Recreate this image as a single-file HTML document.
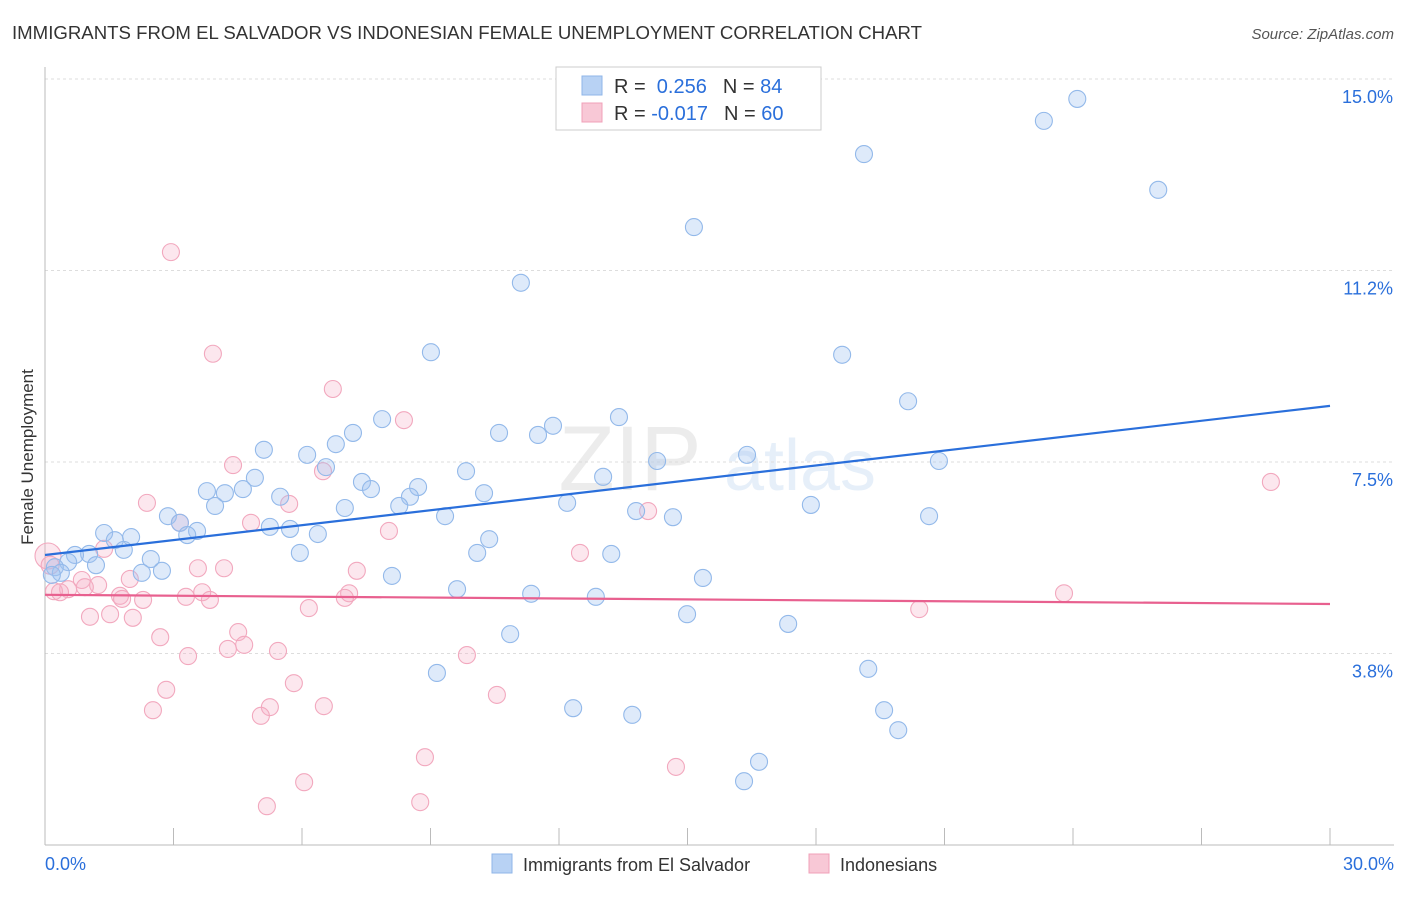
<!DOCTYPE html>
<html><head><meta charset="utf-8">
<style>
body{margin:0;background:#fff;font-family:"Liberation Sans",sans-serif;}
svg text{font-family:"Liberation Sans",sans-serif;}
</style></head>
<body>
<svg id="chart" width="1406" height="892" viewBox="0 0 1406 892" xmlns="http://www.w3.org/2000/svg">
<text x="12" y="39" font-size="18" fill="#333" textLength="910" lengthAdjust="spacingAndGlyphs">IMMIGRANTS FROM EL SALVADOR VS INDONESIAN FEMALE UNEMPLOYMENT CORRELATION CHART</text>
<text x="1394" y="39" font-size="15" fill="#555" text-anchor="end" font-style="italic">Source: ZipAtlas.com</text>
<text transform="translate(33,457) rotate(-90)" font-size="17" fill="#333" text-anchor="middle">Female Unemployment</text>
<g opacity="0.13">
<text x="630" y="490" font-size="92" font-family="Liberation Serif" fill="#777" text-anchor="middle">ZIP</text>
<text x="800" y="490" font-size="72" fill="#4a8ad8" text-anchor="middle">atlas</text>
</g>
<g id="grid"></g>
<g id="axes"></g>
<g id="points"></g>
<g id="lines"></g>
<g>
<rect x="556" y="67" width="265" height="63" fill="#fff" stroke="#ccc"/>
<rect x="582" y="76" width="20" height="19" fill="#b8d2f4" stroke="#8fb6e8"/>
<rect x="582" y="103" width="20" height="19" fill="#f8c8d6" stroke="#f0a0b8"/>
<text x="614" y="93" font-size="20" fill="#333">R = <tspan fill="#2a6fdb">&#160;0.256</tspan><tspan dx="16">N = </tspan><tspan fill="#2a6fdb">84</tspan></text>
<text x="614" y="120" font-size="20" fill="#333">R = <tspan fill="#2a6fdb">-0.017</tspan><tspan dx="16">N = </tspan><tspan fill="#2a6fdb">60</tspan></text>
</g>
<g>
<rect x="492" y="854" width="20" height="19" fill="#b8d2f4" stroke="#8fb6e8"/>
<text x="523" y="871" font-size="18" fill="#333">Immigrants from El Salvador</text>
<rect x="809" y="854" width="20" height="19" fill="#f8c8d6" stroke="#f0a0b8"/>
<text x="840" y="871" font-size="18" fill="#333">Indonesians</text>
</g>
</svg>
<script>
const yTicks=[3.75,7.5,11.25,15];
const yTickLabels=["3.8%","7.5%","11.2%","15.0%"];
const xTickLabels=["0.0%","30.0%"];
const blueX=[24.10,23.32,19.12,25.99,15.15,11.11,9.01,18.61,20.15,7.87,13.40,11.86,10.60,11.51,7.19,6.79,6.12,5.11,16.39,20.87,14.29,9.83,6.56,7.40,13.03,8.71,7.61,4.90,3.78,4.20,4.62,5.49,8.52,10.25,8.27,7.00,3.97,12.19,17.88,9.34,13.80,14.66,20.64,2.87,3.15,3.55,3.32,5.25,5.72,6.37,1.38,2.01,1.63,10.37,1.84,5.95,10.09,13.22,1.03,0.70,2.47,0.54,1.19,0.23,0.37,2.26,2.73,8.10,15.36,9.62,11.35,12.86,14.99,10.86,17.35,9.15,19.22,12.33,13.71,19.59,19.92,16.67,16.32,0.16];
const blueY=[14.61,14.18,13.53,12.83,12.10,11.01,9.65,9.60,8.69,8.34,8.38,8.21,8.07,8.03,8.07,7.85,7.64,7.74,7.64,7.52,7.52,7.32,7.40,7.11,7.21,7.01,6.97,7.19,6.93,6.89,6.97,6.82,6.82,6.89,6.64,6.60,6.64,6.70,6.66,6.44,6.54,6.42,6.44,6.44,6.31,6.15,6.07,6.23,6.19,6.09,6.11,6.03,5.97,5.99,5.78,5.72,5.72,5.70,5.70,5.68,5.60,5.54,5.48,5.44,5.33,5.33,5.37,5.27,5.23,5.01,4.92,4.86,4.52,4.13,4.33,3.37,3.45,2.68,2.55,2.64,2.25,1.63,1.25,5.29];
const pinkX=[2.94,3.92,6.72,8.38,4.39,6.49,28.62,2.38,5.70,3.15,4.81,8.03,14.08,1.38,12.49,3.57,4.18,7.28,1.98,0.86,1.24,0.93,0.54,0.21,0.35,1.75,1.80,2.29,3.29,3.67,3.85,7.10,7.00,23.79,6.16,20.41,1.05,1.52,2.05,2.69,4.51,4.27,4.65,5.44,3.34,9.85,2.83,5.81,10.55,2.52,5.25,6.51,5.04,8.87,14.73,6.05,5.18,8.76,0.07,0.12];
const pinkY=[11.61,9.62,8.93,8.32,7.44,7.32,7.11,6.70,6.68,6.31,6.31,6.15,6.54,5.80,5.72,5.42,5.42,5.37,5.21,5.19,5.09,5.05,5.01,4.97,4.95,4.88,4.82,4.80,4.86,4.95,4.80,4.93,4.84,4.93,4.64,4.62,4.47,4.52,4.45,4.07,4.17,3.84,3.92,3.80,3.70,3.72,3.04,3.17,2.94,2.64,2.70,2.72,2.53,1.72,1.53,1.23,0.76,0.84,5.66,5.48];
const blueTrend=[5.68,8.60];
const pinkTrend=[4.90,4.72];
const xMin=0,xMax=30;
const NS="http://www.w3.org/2000/svg";
function xs(v){return 45+(v-xMin)/(xMax-xMin)*1285;}
function ys(v){return 79+(15-v)*51.07;}
function mk(tag,attrs,parent){const e=document.createElementNS(NS,tag);for(const k in attrs)e.setAttribute(k,attrs[k]);document.getElementById(parent).appendChild(e);return e;}
yTicks.forEach((t,i)=>{
 const g=mk('line',{x1:45,x2:1394,y1:ys(t),y2:ys(t),stroke:'#ddd','stroke-dasharray':'3,3'},'grid');
 
 
 const l=mk('text',{x:1393,y:ys(t)+24,'font-size':18,fill:'#2a6fdb','text-anchor':'end'},'axes');
 l.textContent=yTickLabels[i];
 
 
});
const ax=mk('line',{x1:45,x2:1394,y1:845,y2:845,stroke:'#bbb'},'axes');


const ay=mk('line',{x1:45,x2:45,y1:67,y2:845,stroke:'#bbb'},'axes');


for(let i=0;i<=10;i++){
 const t=mk('line',{x1:xs(i*3),x2:xs(i*3),y1:828,y2:845,stroke:'#bbb'},'axes');
 
 
}
const xl0=mk('text',{x:45,y:870,'font-size':18,fill:'#2a6fdb'},'axes');
xl0.textContent=xTickLabels[0];


const xl1=mk('text',{x:1394,y:870,'font-size':18,fill:'#2a6fdb','text-anchor':'end'},'axes');
xl1.textContent=xTickLabels[1];


pinkX.forEach((x,i)=>{
 const r=(i>=58)?(i==58?13:9):8.5;
 const c=mk('circle',{cx:xs(x),cy:ys(pinkY[i]),r:r,fill:'rgba(245,175,198,0.3)',stroke:'#f2a8be','stroke-width':1.1},'points');
 
 
});
blueX.forEach((x,i)=>{
 const c=mk('circle',{cx:xs(x),cy:ys(blueY[i]),r:8.5,fill:'rgba(160,196,240,0.35)',stroke:'#93b9ea','stroke-width':1.1},'points');
 
 
});
const bl=mk('line',{x1:xs(0),x2:xs(30),y1:ys(blueTrend[0]),y2:ys(blueTrend[1]),stroke:'#2a6fdb','stroke-width':2.2},'lines');


const pl=mk('line',{x1:xs(0),x2:xs(30),y1:ys(pinkTrend[0]),y2:ys(pinkTrend[1]),stroke:'#e8608f','stroke-width':2.2},'lines');


</script>
</body></html>
